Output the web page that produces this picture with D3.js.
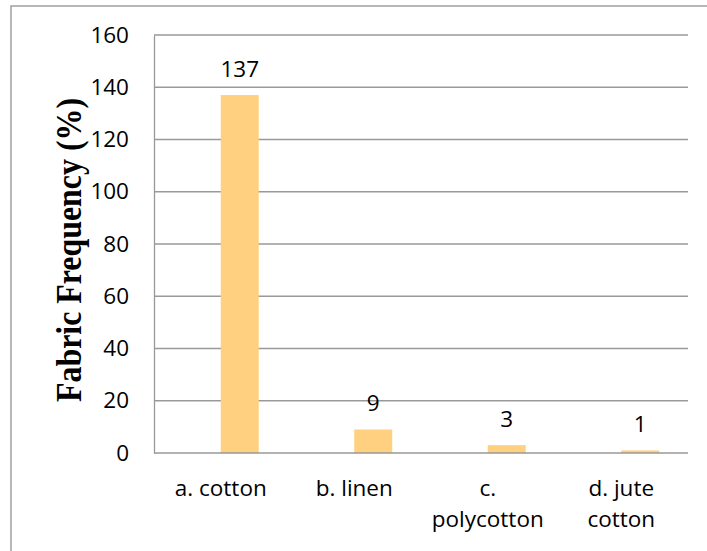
<!DOCTYPE html>
<html>
<head>
<meta charset="utf-8">
<script src="https://cdn.jsdelivr.net/npm/d3@7"></script>
<style>
  body { margin: 0; background: #fff; }
  svg text { font-family: "Open Sans", sans-serif; fill: #000; }
  svg text.ytitle { font-family: "Liberation Serif", "Times New Roman", serif; font-weight: bold; }
</style>
</head>
<body>
<div class="container"></div>
<script>
// chart data
var categories = ["a. cotton", "b. linen", "c. polycotton", "d. jute cotton"];
var categoryLines = [["a. cotton"], ["b. linen"], ["c.", "polycotton"], ["d. jute", "cotton"]];
var frequency = [137, 9, 3, 1];
var yTicks = [0, 20, 40, 60, 80, 100, 120, 140, 160];
// excel clustered slot: an empty first series, the values sit in the second
var seriesSlots = ["empty", "frequency"];

var width = 707, height = 551;
var plotLeft = 154, plotRight = 688, plotTop = 35, plotBottom = 453;

var svg = d3.select(".container").append('svg')
  .attr('width', width)
  .attr('height', height);

// chart border
svg.append('rect')
  .attr('x', 11).attr('y', 6)
  .attr('width', 720).attr('height', 560)
  .attr('fill', 'none')
  .attr('stroke', '#a0a0a0')
  .attr('stroke-width', 1.5);

var x = d3.scaleBand().domain(categories).range([plotLeft, plotRight]);
var x1 = d3.scaleBand().domain(seriesSlots).range([0, x.bandwidth()]).paddingOuter(0.757);
var y = d3.scaleLinear().domain([0, 160]).range([plotBottom, plotTop]);

// gridlines
svg.selectAll('.grid').data(yTicks.filter(function(d){ return d > 0; })).enter()
  .append('line').attr('class', 'grid')
  .attr('x1', plotLeft).attr('x2', plotRight)
  .attr('y1', function(d){ return y(d); })
  .attr('y2', function(d){ return y(d); })
  .attr('stroke', '#999').attr('stroke-width', 1.3);

// y axis
var yAxis = svg.append('g').attr('transform', 'translate(' + plotLeft + ',0)')
  .call(d3.axisLeft(y).tickValues(yTicks).tickSize(0).tickPadding(25));
yAxis.select('.domain').attr('stroke', '#999').attr('stroke-width', 1.3);
yAxis.selectAll('text').attr('font-size', 22.5).attr('fill', '#000');

// bars
svg.selectAll('.bar').data(frequency).enter()
  .append('rect').attr('class', 'bar')
  .attr('x', function(d, i){ return x(categories[i]) + x1("frequency"); })
  .attr('y', function(d){ return y(d); })
  .attr('width', x1.bandwidth())
  .attr('height', function(d){ return y(0) - y(d); })
  .attr('fill', '#ffd080');

// x axis line
svg.append('line')
  .attr('x1', plotLeft).attr('x2', plotRight)
  .attr('y1', y(0)).attr('y2', y(0))
  .attr('stroke', '#999').attr('stroke-width', 1.3);

// value labels
svg.selectAll('.val').data(frequency).enter()
  .append('text').attr('class', 'val')
  .attr('x', function(d, i){ return x(categories[i]) + x1("frequency") + x1.bandwidth() / 2; })
  .attr('y', function(d){ return y(d) - 18.5; })
  .attr('text-anchor', 'middle')
  .attr('font-size', 22.5)
  .text(function(d){ return d; });

// category labels
var cat = svg.selectAll('.cat').data(categories).enter()
  .append('text').attr('class', 'cat')
  .attr('text-anchor', 'middle')
  .attr('font-size', 22.5)
  .attr('transform', function(d){ return 'translate(' + (x(d) + x.bandwidth() / 2) + ',' + (y(0) + 43) + ')'; });
cat.each(function(d, i){
  var t = d3.select(this);
  categoryLines[i].forEach(function(line, j){
    t.append('tspan').attr('x', 0).attr('y', j * 31).text(line);
  });
});

// y title (glyphs in the original are taller than wide)
svg.append('text').attr('class', 'ytitle')
  .attr('transform', 'translate(81,' + 250 + ') rotate(-90)')
  .attr('text-anchor', 'middle')
  .attr('font-size', 35)
  .attr('textLength', 304)
  .attr('lengthAdjust', 'spacingAndGlyphs')
  .text('Fabric Frequency (%)');
</script>
</body>
</html>
